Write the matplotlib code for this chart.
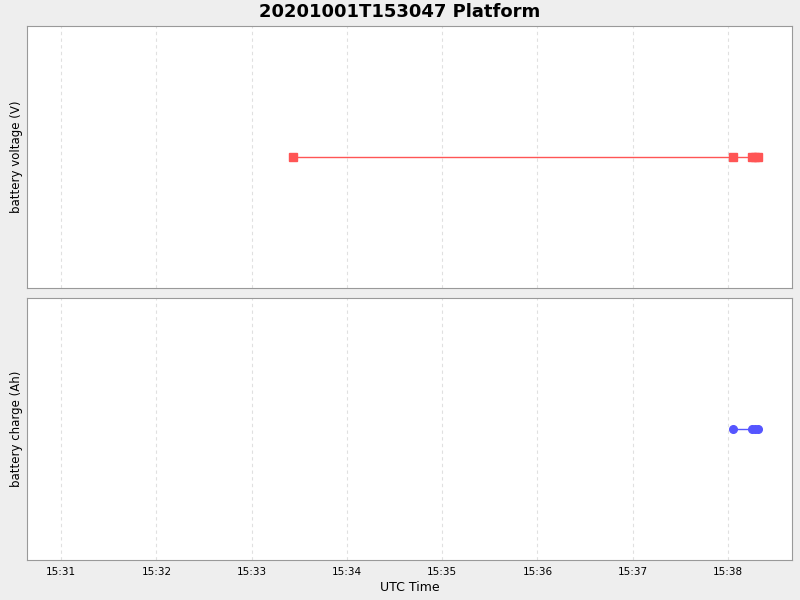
import matplotlib
matplotlib.use("Agg")
import matplotlib.pyplot as plt
import matplotlib.dates as mdates
import pandas as pd

# readings (values are flat, so only times matter)
voltage_times = ["2020-10-01 15:33:26", "2020-10-01 15:38:03",
                 "2020-10-01 15:38:15", "2020-10-01 15:38:17", "2020-10-01 15:38:19"]
voltage_values = [12.0, 12.0, 12.0, 12.0, 12.0]
charge_times = ["2020-10-01 15:38:03", "2020-10-01 15:38:15",
                "2020-10-01 15:38:17", "2020-10-01 15:38:19"]
charge_values = [50.0, 50.0, 50.0, 50.0]

x_start = pd.Timestamp("2020-10-01 15:30:38.5")
x_end = pd.Timestamp("2020-10-01 15:38:40.3")

title = "20201001T153047 Platform"

fig = plt.figure(figsize=(8, 6), dpi=100, facecolor="#eeeeee")
ax1 = fig.add_axes([0.03375, 0.52, 0.95625, 0.4367])
ax2 = fig.add_axes([0.03375, 0.0667, 0.95625, 0.4367], sharex=ax1)

panels = [
    (ax1, pd.to_datetime(voltage_times), voltage_values, "#ff5555", "s", "battery voltage (V)"),
    (ax2, pd.to_datetime(charge_times), charge_values, "#5555ff", "o", "battery charge (Ah)"),
]
for ax, t, v, color, marker, label in panels:
    ax.plot(t, v, color=color, lw=1, marker=marker, ms=5.5, mec=color, mfc=color)
    ax.set_ylim(v[0] - 1, v[0] + 1)
    ax.set_yticks([])
    ax.set_ylabel(label, fontsize=8.5, labelpad=3)
    ax.set_facecolor("white")
    ax.grid(axis="x", color="#e0e0e0", linestyle=(0, (3, 3)), lw=0.8)
    for s in ax.spines.values():
        s.set_color("#999999")

ax1.set_xlim(x_start, x_end)
ax1.xaxis.set_major_locator(mdates.MinuteLocator())
ax1.xaxis.set_major_formatter(mdates.DateFormatter("%H:%M"))
ax1.tick_params(axis="x", labelbottom=False, length=0)
ax2.tick_params(axis="x", labelsize=7.5, length=0, pad=5)
ax2.set_xlabel("UTC Time", fontsize=9, labelpad=3)

fig.suptitle(title, fontsize=13, fontweight="bold", y=0.995)

fig.savefig("out.png", dpi=100, facecolor=fig.get_facecolor())
